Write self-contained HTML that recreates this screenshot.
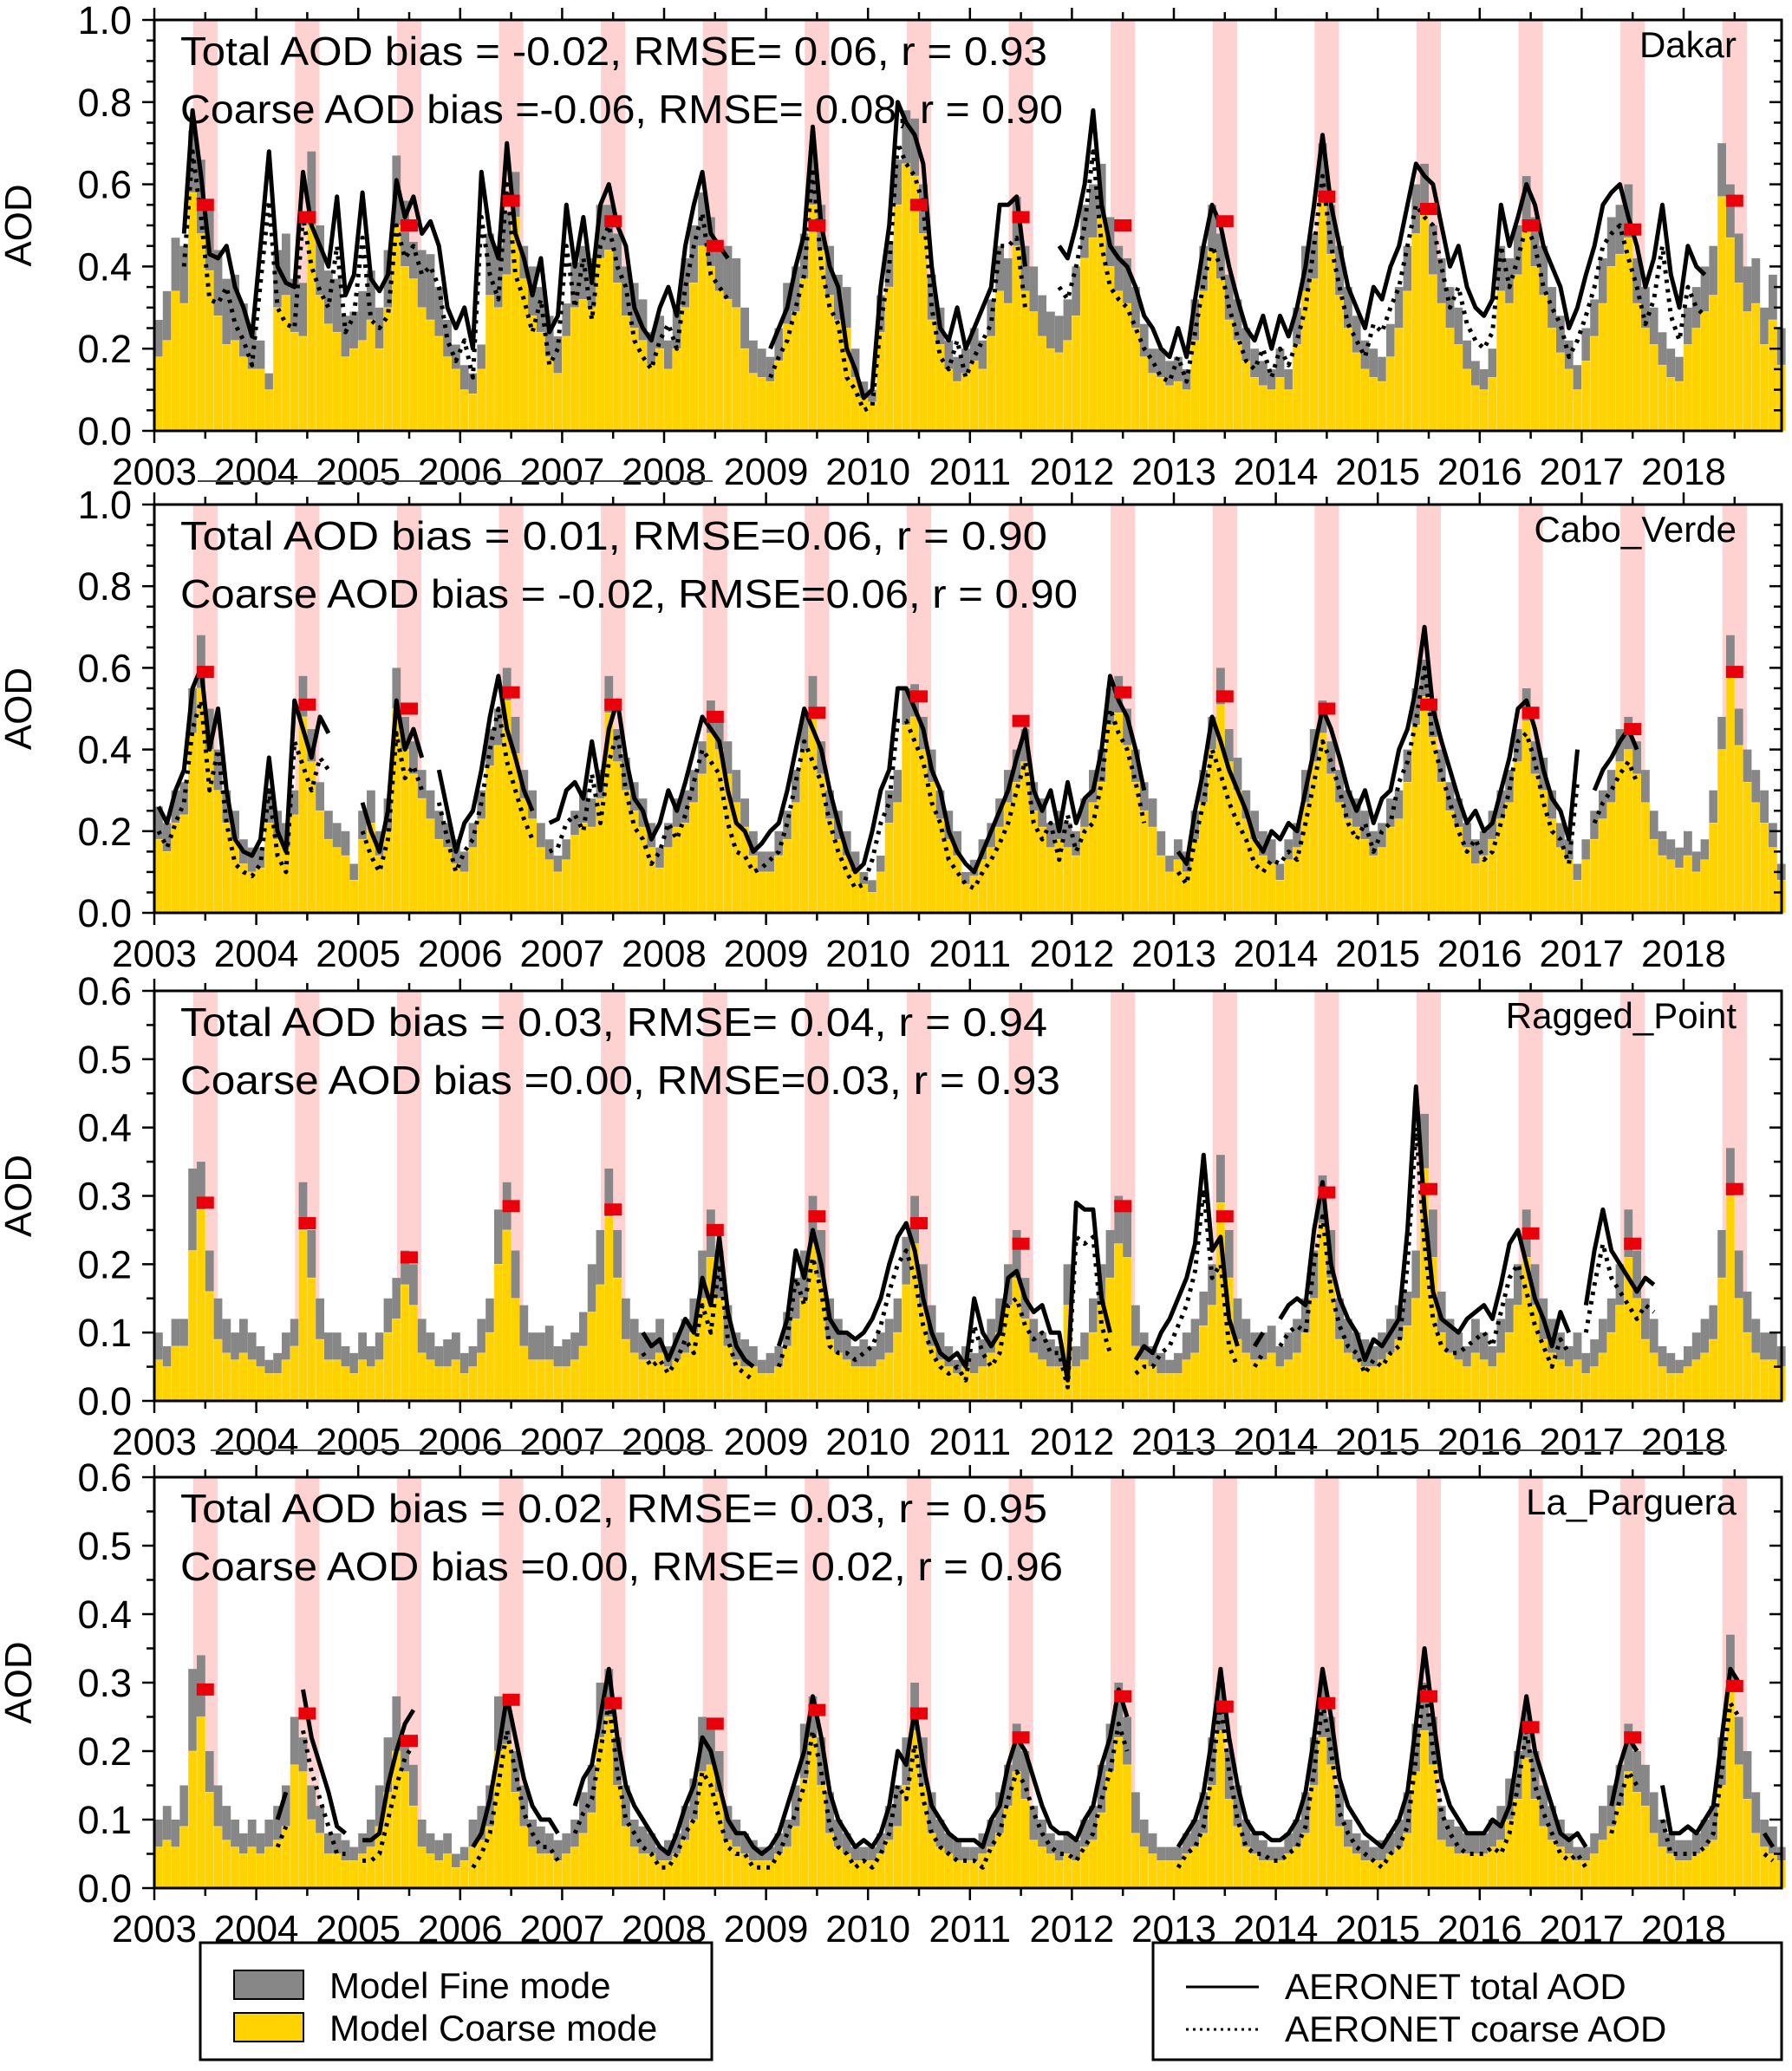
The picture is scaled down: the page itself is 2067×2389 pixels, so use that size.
<!DOCTYPE html>
<html><head><meta charset="utf-8"><style>
html,body{margin:0;padding:0;background:#fff}
svg{display:block}
text{font-family:"Liberation Sans",sans-serif;fill:#000}
</style></head><body>
<svg id="chart" width="2067" height="2389" viewBox="0 0 2067 2389" xmlns="http://www.w3.org/2000/svg"></svg>
<script>
const N=null;
const years=['2003','2004','2005','2006','2007','2008','2009','2010','2011','2012','2013','2014','2015','2016','2017','2018'];
const stations=['Dakar','Cabo_Verde','Ragged_Point','La_Parguera'];
const statsTotal=['Total AOD bias = -0.02, RMSE= 0.06, r = 0.93','Total AOD bias = 0.01, RMSE=0.06, r = 0.90','Total AOD bias  = 0.03, RMSE= 0.04, r = 0.94','Total AOD bias = 0.02, RMSE= 0.03, r = 0.95'];
const statsCoarse=['Coarse AOD bias =-0.06, RMSE= 0.08, r = 0.90','Coarse AOD bias = -0.02, RMSE=0.06, r = 0.90','Coarse AOD bias  =0.00, RMSE=0.03, r = 0.93','Coarse AOD bias =0.00, RMSE= 0.02, r = 0.96'];
const yMaxes=[1.0,1.0,0.6,0.6];
const yTickLabels=[['0.0','0.2','0.4','0.6','0.8','1.0'],['0.0','0.2','0.4','0.6','0.8','1.0'],['0.0','0.1','0.2','0.3','0.4','0.5','0.6'],['0.0','0.1','0.2','0.3','0.4','0.5','0.6']];
const redMarks=[
[.55,.52,.50,.56,.51,.45,.50,.55,.52,.50,.51,.57,.54,.50,.49,.56],
[.59,.51,.50,.54,.51,.48,.49,.53,.47,.54,.53,.50,.51,.49,.45,.59],
[.29,.26,.21,.285,.28,.25,.27,.26,.23,.285,.27,.305,.31,.245,.23,.31],
[.29,.255,.215,.275,.27,.24,.26,.255,.22,.28,.265,.27,.28,.235,.22,.295]];

const dakarTotal=[
.27,.34,.47,.45,.73,.66,.55,.44,.37,.38,.31,.25,
.22,.14,.44,.48,.37,.36,.68,.50,.39,.37,.28,.29,
.34,.39,.30,.44,.67,.56,.46,.44,.43,.35,.27,.21,
.16,.14,.21,.48,.45,.53,.63,.45,.40,.35,.28,.23,
.31,.41,.45,.42,.55,.55,.48,.40,.36,.32,.24,.28,
.22,.30,.42,.50,.58,.52,.46,.45,.42,.30,.22,.20,
.18,.25,.36,.40,.48,.68,.55,.45,.38,.35,.20,.12,
.10,.33,.46,.66,.78,.76,.60,.38,.30,.22,.18,.20,
.25,.22,.32,.45,.42,.57,.45,.40,.33,.29,.28,.32,
.40,.55,.60,.65,.52,.45,.42,.35,.26,.20,.20,.17,
.18,.15,.32,.45,.55,.48,.38,.32,.25,.20,.17,.15,
.20,.15,.30,.45,.48,.70,.55,.45,.35,.28,.22,.20,
.18,.26,.35,.45,.60,.65,.50,.42,.35,.30,.22,.17,
.15,.20,.45,.42,.50,.62,.52,.45,.35,.28,.22,.16,
.25,.32,.42,.52,.55,.60,.42,.35,.30,.24,.20,.18,
.30,.35,.40,.45,.70,.60,.48,.40,.42,.30,.38,.25];
const dakarCoarse=[
.18,.22,.34,.31,.58,.48,.39,.28,.21,.22,.18,.15,
.15,.10,.30,.33,.24,.23,.50,.33,.26,.24,.18,.20,
.22,.27,.20,.30,.50,.40,.37,.30,.27,.23,.18,.15,
.10,.09,.15,.33,.30,.38,.52,.37,.28,.24,.18,.14,
.23,.30,.32,.30,.42,.44,.36,.28,.25,.22,.16,.20,
.15,.20,.30,.36,.45,.40,.34,.32,.30,.20,.14,.13,
.12,.17,.26,.29,.37,.55,.44,.33,.27,.25,.13,.08,
.07,.24,.35,.55,.65,.62,.48,.27,.21,.15,.12,.14,
.17,.15,.23,.34,.31,.45,.34,.29,.23,.20,.19,.22,
.28,.42,.47,.52,.40,.34,.31,.25,.18,.14,.13,.11,
.12,.10,.22,.34,.44,.37,.27,.22,.17,.13,.11,.10,
.13,.10,.21,.34,.37,.57,.43,.33,.25,.19,.15,.13,
.12,.18,.25,.34,.48,.53,.38,.31,.25,.21,.15,.11,
.10,.13,.34,.31,.38,.50,.40,.33,.25,.19,.15,.10,
.17,.23,.31,.40,.43,.47,.31,.25,.21,.16,.13,.12,
.21,.25,.29,.33,.57,.47,.36,.29,.31,.21,.27,.16];
const dakarObsTotal=[
N,N,N,.48,.78,.62,.43,.42,.45,.35,.30,.23,
.45,.68,.40,.36,.35,.63,.50,.45,.40,.57,.33,.38,
.58,.37,.34,.38,.61,.52,.57,.48,.51,.45,.30,.25,
.30,.20,.63,.48,.42,.70,.48,.42,.33,.42,.24,.28,
.55,.40,.52,.36,.55,.60,.50,.45,.30,.25,.22,.30,
.35,.28,.45,.55,.63,.48,.45,.42,N,N,N,N,
.20,.25,.30,.40,.48,.74,.50,.40,.35,.20,.15,.08,
.10,.35,.50,.80,.75,.72,.65,.40,.25,.22,.30,.20,
.25,.30,.35,.55,.55,.57,.40,N,N,N,.45,.42,
.50,.60,.78,.55,.45,.42,.40,.35,.28,.25,.20,.18,
.25,.18,.32,.45,.55,.50,.40,.32,.25,.22,.28,.20,
.28,.23,.30,.40,.55,.72,.55,.45,.35,.30,.25,.35,
.32,.40,.45,.55,.65,.62,.60,.50,.40,.45,.35,.30,
.28,.32,.55,.45,.52,.60,.55,.45,.40,.35,.25,.30,
.38,.45,.55,.58,.60,.52,.45,.35,.42,.55,.38,.30,
.45,.40,.38,N,N,N,N,N,N,N,N,N];
const dakarObsCoarse=[
N,N,N,.40,.68,.52,.32,.31,.35,.26,.22,.16,
.36,.56,.30,.26,.25,.52,.40,.34,.30,.45,.24,.28,
.47,.27,.25,.28,.50,.42,.45,.38,.40,.35,.22,.17,
.22,.13,.52,.38,.32,.60,.38,.32,.24,.32,.16,.20,
.45,.30,.42,.27,.45,.50,.40,.35,.22,.18,.15,.22,
.26,.20,.35,.45,.53,.38,.35,.32,N,N,N,N,
.13,.18,.22,.30,.38,.64,.40,.30,.26,.13,.10,.05,
.06,.26,.40,.70,.65,.62,.55,.30,.18,.15,.22,.13,
.18,.22,.26,.45,.45,.47,.30,N,N,N,.35,.32,
.40,.50,.68,.45,.35,.32,.30,.25,.20,.17,.13,.12,
.18,.12,.24,.36,.45,.40,.30,.23,.17,.15,.20,.13,
.20,.16,.22,.30,.45,.62,.45,.35,.26,.22,.18,.26,
.24,.30,.35,.45,.55,.52,.50,.40,.30,.35,.26,.22,
.20,.24,.45,.35,.42,.50,.45,.35,.30,.26,.18,.22,
.28,.35,.45,.48,.50,.42,.35,.26,.32,.45,.28,.22,
.35,.30,.28,N,N,N,N,N,N,N,N,N];

const caboTotal=[
.26,.22,.30,.32,.55,.68,.50,.40,.30,.25,.18,.16,
.16,.30,.25,.22,.30,.58,.45,.32,.25,.22,.20,.12,
.25,.30,.20,.28,.60,.48,.42,.35,.30,.25,.22,.18,
.15,.22,.30,.45,.50,.60,.48,.35,.30,.22,.18,.14,
.18,.25,.30,.28,.35,.58,.45,.38,.32,.28,.22,.16,
.22,.28,.30,.35,.42,.52,.48,.42,.35,.28,.20,.15,
.15,.20,.25,.35,.48,.58,.42,.30,.25,.20,.15,.10,
.08,.14,.30,.35,.55,.56,.48,.40,.30,.25,.20,.10,
.13,.18,.22,.28,.35,.40,.45,.32,.28,.22,.25,.22,
.20,.28,.35,.40,.55,.58,.50,.40,.32,.28,.20,.14,
.18,.15,.25,.35,.48,.60,.45,.38,.30,.25,.20,.18,
.12,.18,.22,.35,.45,.52,.42,.35,.30,.28,.25,.20,
.22,.28,.30,.40,.55,.62,.52,.40,.32,.28,.22,.18,
.20,.25,.30,.35,.45,.55,.42,.38,.30,.22,.18,.12,
.18,.25,.30,.35,.45,.48,.42,.35,.25,.20,.18,.16,
.20,.15,.18,.30,.48,.68,.50,.40,.35,.30,.22,.12];
const caboCoarse=[
.18,.15,.22,.24,.44,.55,.40,.30,.22,.18,.12,.10,
.11,.22,.18,.16,.24,.48,.37,.25,.18,.16,.14,.08,
.18,.22,.14,.20,.50,.40,.34,.28,.23,.18,.16,.12,
.10,.16,.23,.36,.41,.52,.39,.28,.23,.16,.13,.10,
.13,.19,.22,.21,.28,.49,.37,.30,.25,.21,.16,.11,
.16,.21,.22,.27,.34,.44,.40,.34,.27,.21,.14,.10,
.10,.14,.18,.27,.40,.49,.34,.23,.18,.14,.10,.07,
.05,.10,.22,.27,.46,.48,.40,.32,.23,.18,.14,.07,
.09,.13,.16,.21,.27,.32,.37,.25,.21,.16,.18,.16,
.14,.21,.27,.32,.46,.49,.41,.32,.25,.21,.14,.10,
.13,.10,.18,.27,.40,.51,.37,.30,.23,.18,.14,.12,
.08,.13,.16,.27,.37,.44,.34,.27,.23,.21,.18,.14,
.16,.21,.23,.32,.46,.53,.43,.32,.25,.21,.16,.12,
.14,.18,.23,.27,.37,.47,.34,.30,.23,.16,.13,.08,
.13,.18,.23,.27,.37,.40,.34,.27,.18,.14,.13,.11,
.14,.10,.13,.22,.40,.58,.41,.32,.27,.22,.16,.08];
const caboObsTotal=[
.26,.22,.30,.35,.55,.60,.40,.50,.30,.18,.15,.14,
.18,.38,.20,.15,.52,.45,.38,.48,.44,N,N,N,
.27,.20,.15,.25,.52,.40,.45,.38,N,.35,.25,.15,
.22,.25,.35,.48,.58,.45,.38,.30,.25,N,.22,.23,
.30,.32,.28,.42,.30,.45,.52,.38,.28,.25,.18,.22,
.30,.25,.32,.40,.48,.45,.42,.30,.22,.20,.15,.17,
.20,.22,.30,.40,.50,.45,.40,.30,.22,.15,.10,.12,
.20,.30,.35,.55,.55,.50,.45,.35,.30,.20,.15,.12,
.10,.15,.20,.25,.30,.38,.45,.30,.25,.30,.20,.32,
.22,.28,.30,.40,.58,.52,.48,.40,.30,N,N,N,
.15,.12,.25,.35,.48,.42,.35,.30,.25,.18,.15,.20,
.18,.22,.20,.30,.40,.50,.45,.38,.30,.25,.30,.22,
.28,.30,.40,.45,.55,.70,.50,.42,.35,.28,.22,.25,
.20,.22,.30,.38,.50,.52,.45,.35,.28,.25,.18,.40,
N,.30,.35,.38,.42,.45,.40,N,N,N,N,N,
N,N,N,N,N,N,N,N,N,N,N,N];
const caboObsCoarse=[
.20,.16,.22,.27,.45,.52,.30,.40,.22,.12,.10,.09,
.12,.30,.14,.10,.42,.36,.30,.38,.35,N,N,N,
.20,.14,.10,.18,.44,.33,.36,.30,N,.27,.18,.10,
.15,.18,.27,.40,.50,.37,.30,.23,.18,N,.15,.16,
.22,.24,.20,.34,.22,.37,.44,.30,.21,.18,.12,.15,
.22,.18,.24,.32,.40,.37,.34,.22,.15,.14,.10,.11,
.13,.15,.22,.32,.42,.37,.32,.22,.15,.10,.06,.07,
.13,.22,.27,.47,.47,.42,.37,.27,.22,.13,.10,.07,
.06,.10,.13,.17,.22,.30,.37,.22,.18,.22,.13,.24,
.15,.20,.22,.32,.50,.44,.40,.32,.22,N,N,N,
.10,.07,.18,.27,.40,.34,.27,.22,.18,.12,.10,.13,
.12,.15,.13,.22,.32,.42,.37,.30,.22,.18,.22,.15,
.20,.22,.32,.37,.47,.60,.42,.34,.27,.20,.15,.18,
.13,.15,.22,.30,.42,.44,.37,.27,.20,.18,.12,.32,
N,.22,.27,.30,.34,.37,.32,N,N,N,N,N,
N,N,N,N,N,N,N,N,N,N,N,N];

const raggedTotal=[
.10,.08,.12,.12,.34,.35,.22,.15,.12,.10,.12,.10,
.08,.06,.07,.10,.12,.32,.25,.15,.10,.10,.08,.07,
.10,.08,.10,.15,.18,.22,.20,.12,.10,.08,.09,.10,
.07,.08,.12,.15,.28,.32,.22,.14,.10,.10,.11,.08,
.09,.10,.13,.20,.25,.34,.25,.15,.12,.10,.10,.12,
.08,.10,.12,.15,.22,.28,.22,.14,.10,.09,.08,.06,
.07,.08,.13,.18,.22,.30,.25,.15,.12,.10,.08,.09,
.08,.10,.12,.15,.24,.30,.20,.14,.10,.08,.06,.08,
.07,.09,.12,.15,.20,.25,.18,.12,.10,.09,.08,.20,
.08,.10,.15,.20,.25,.30,.28,.14,.10,.08,.07,.06,
.07,.10,.12,.16,.20,.36,.25,.15,.12,.10,.10,.11,
.08,.10,.12,.15,.22,.33,.25,.15,.12,.10,.09,.08,
.10,.12,.14,.16,.22,.42,.28,.16,.12,.10,.08,.12,
.10,.08,.12,.15,.20,.28,.20,.15,.12,.10,.08,.10,
.07,.09,.12,.15,.20,.28,.22,.15,.12,.08,.07,.06,
.08,.10,.12,.14,.25,.37,.22,.16,.12,.10,.10,.08];
const raggedCoarse=[
.06,.05,.08,.08,.22,.28,.16,.09,.07,.06,.07,.06,
.05,.04,.04,.06,.08,.25,.18,.09,.06,.06,.05,.04,
.06,.05,.06,.10,.12,.17,.14,.07,.06,.05,.05,.06,
.04,.05,.07,.10,.20,.25,.15,.08,.06,.06,.06,.05,
.05,.06,.08,.13,.17,.27,.18,.09,.07,.06,.06,.07,
.05,.06,.07,.10,.15,.21,.15,.08,.06,.05,.05,.04,
.04,.05,.08,.12,.15,.23,.18,.09,.07,.06,.05,.05,
.05,.06,.07,.10,.17,.23,.14,.08,.06,.05,.04,.05,
.04,.05,.07,.10,.14,.18,.12,.07,.06,.05,.05,.14,
.05,.06,.10,.14,.18,.23,.21,.08,.06,.05,.04,.04,
.04,.06,.07,.11,.14,.29,.18,.09,.07,.06,.06,.07,
.05,.06,.07,.10,.15,.26,.18,.09,.07,.06,.05,.05,
.06,.07,.09,.11,.15,.34,.21,.10,.07,.06,.05,.07,
.06,.05,.07,.10,.14,.21,.14,.09,.07,.06,.05,.06,
.04,.05,.07,.10,.14,.21,.15,.09,.07,.05,.04,.04,
.05,.06,.07,.09,.18,.30,.15,.10,.07,.06,.06,.05];
const raggedObsTotal=[
N,N,N,N,N,N,N,N,N,N,N,N,
N,N,N,N,N,N,N,N,N,N,N,N,
N,N,N,N,N,N,N,N,N,N,N,N,
N,N,N,N,N,N,N,N,N,N,N,N,
N,N,N,N,N,N,N,N,N,.10,.08,.09,
.06,.09,.12,.10,.18,.14,.24,.13,.08,.06,.05,N,
N,.08,.12,.22,.18,.25,.20,.12,.10,.10,.09,.10,
.12,.15,.20,.24,.26,.22,.15,.10,.07,.06,.07,.05,
.15,.10,.08,.10,.18,.19,.15,.13,.14,.10,.10,.03,
.29,.28,.28,.15,.10,N,N,.06,.08,.07,.10,.12,
.15,.18,.23,.36,.22,.24,.12,.08,N,.08,.10,N,
.12,.14,.15,.14,.25,.32,.20,.15,.12,.10,.06,.09,
.08,.10,.12,.25,.46,.28,.16,.12,.11,.10,.12,.13,
.14,.12,.17,.23,.25,.20,.15,.12,.08,.13,.10,N,
.14,.22,.28,.22,.20,.18,.16,.18,.17,N,N,N,
N,N,N,N,N,N,N,N,N,N,N,N];
const raggedObsCoarse=[
N,N,N,N,N,N,N,N,N,N,N,N,
N,N,N,N,N,N,N,N,N,N,N,N,
N,N,N,N,N,N,N,N,N,N,N,N,
N,N,N,N,N,N,N,N,N,N,N,N,
N,N,N,N,N,N,N,N,N,.07,.05,.06,
.04,.06,.09,.07,.14,.10,.20,.09,.05,.04,.03,N,
N,.05,.09,.18,.14,.21,.16,.08,.07,.07,.06,.07,
.08,.11,.16,.20,.22,.18,.11,.07,.05,.04,.05,.03,
.11,.07,.05,.07,.14,.15,.11,.09,.10,.07,.07,.02,
.24,.23,.24,.11,.07,N,N,.04,.05,.05,.07,.08,
.11,.14,.19,.31,.18,.20,.08,.05,N,.05,.07,N,
.08,.10,.11,.10,.20,.27,.16,.11,.08,.07,.04,.06,
.05,.07,.08,.20,.40,.23,.12,.08,.07,.07,.08,.09,
.10,.08,.13,.18,.20,.16,.11,.08,.05,.09,.07,N,
.10,.17,.23,.18,.16,.14,.12,.14,.13,N,N,N,
N,N,N,N,N,N,N,N,N,N,N,N];

const parguTotal=[
.10,.12,.10,.15,.32,.34,.20,.15,.12,.10,.08,.10,
.08,.10,.12,.15,.25,.22,.15,.12,.08,.08,.07,.06,
.08,.10,.15,.22,.28,.22,.18,.10,.08,.07,.08,.05,
.06,.10,.12,.15,.28,.28,.20,.15,.10,.09,.08,.07,
.08,.10,.14,.18,.30,.32,.22,.15,.10,.09,.08,.06,
.07,.08,.12,.16,.25,.24,.20,.12,.10,.08,.07,.06,
.06,.08,.10,.15,.24,.28,.22,.14,.10,.08,.06,.06,
.06,.08,.12,.15,.22,.30,.22,.14,.10,.08,.07,.06,
.06,.08,.10,.14,.18,.24,.20,.12,.10,.08,.07,.08,
.07,.10,.12,.18,.24,.30,.25,.14,.10,.08,.06,.06,
.06,.08,.10,.14,.22,.30,.20,.15,.10,.08,.07,.06,
.06,.08,.10,.14,.22,.30,.25,.15,.10,.08,.07,.06,
.07,.08,.10,.14,.24,.30,.25,.12,.10,.09,.08,.08,
.08,.10,.12,.16,.20,.26,.20,.15,.12,.10,.08,.06,
.06,.08,.12,.15,.18,.24,.20,.18,.14,.10,.08,.07,
.07,.08,.10,.12,.22,.37,.25,.20,.14,.10,.09,.06];
const parguCoarse=[
.06,.07,.06,.09,.20,.25,.14,.09,.07,.06,.05,.06,
.05,.06,.07,.09,.18,.17,.10,.08,.05,.05,.04,.04,
.05,.06,.09,.14,.20,.17,.12,.06,.05,.04,.05,.03,
.04,.06,.07,.09,.20,.21,.14,.09,.06,.05,.05,.04,
.05,.06,.08,.11,.22,.25,.15,.09,.06,.05,.05,.04,
.04,.05,.07,.10,.17,.18,.14,.07,.06,.05,.04,.04,
.04,.05,.06,.09,.16,.22,.15,.08,.06,.05,.04,.04,
.04,.05,.07,.09,.15,.23,.15,.08,.06,.05,.04,.04,
.04,.05,.06,.08,.12,.17,.13,.07,.06,.05,.04,.05,
.04,.06,.07,.11,.17,.22,.18,.08,.06,.05,.04,.04,
.04,.05,.06,.08,.15,.23,.13,.09,.06,.05,.04,.04,
.04,.05,.06,.08,.15,.22,.18,.09,.06,.05,.04,.04,
.04,.05,.06,.08,.17,.23,.18,.07,.06,.05,.05,.05,
.05,.06,.07,.10,.13,.19,.13,.09,.07,.06,.05,.04,
.04,.05,.07,.09,.12,.17,.14,.12,.08,.06,.05,.04,
.04,.05,.06,.07,.15,.30,.18,.13,.08,.06,.05,.04];
const parguObsTotal=[
N,N,N,N,N,N,N,N,N,N,N,N,
N,N,.10,.14,N,.29,.22,.18,.14,.09,.08,N,
.07,.07,.08,.15,.20,.24,.26,N,N,N,N,N,
N,.06,.08,.13,.20,.28,.22,.16,.12,.10,.10,.08,
N,.12,.16,.18,.25,.32,.22,.15,.12,.10,.08,.06,
.05,.08,.12,.15,.22,.20,.15,.10,.08,.08,.06,.05,
.06,.08,.12,.16,.20,.28,.22,.14,.10,.08,.06,.07,
.06,.08,.12,.20,.18,.26,.18,.12,.10,.08,.07,.07,
.07,.06,.10,.12,.18,.22,.20,.16,.12,.09,.08,.08,
.07,.10,.12,.18,.22,.29,.25,N,N,N,N,N,
.06,.08,.10,.14,.22,.32,.22,.15,.10,.08,.08,.07,
.07,.08,.10,.14,.22,.32,.25,.16,.12,.10,.08,.07,
.06,.08,.10,.14,.24,.35,.25,.16,.12,.10,.08,.08,
.08,.10,.09,.12,.20,.28,.20,.16,.12,.08,.07,.08,
.06,N,N,.12,.18,.22,.20,N,N,.15,.08,.08,
.09,.08,.10,.12,.22,.32,.30,N,N,.08,.06,N];
const parguObsCoarse=[
N,N,N,N,N,N,N,N,N,N,N,N,
N,N,.06,.09,N,.23,.17,.13,.09,.05,.05,N,
.04,.04,.05,.10,.15,.19,.21,N,N,N,N,N,
N,.03,.05,.08,.15,.23,.17,.11,.08,.06,.06,.04,
N,.08,.11,.13,.20,.27,.17,.10,.08,.06,.05,.03,
.03,.05,.08,.10,.17,.15,.10,.06,.05,.05,.03,.03,
.03,.05,.08,.11,.15,.23,.17,.09,.06,.05,.03,.04,
.03,.05,.08,.15,.13,.21,.13,.08,.06,.05,.04,.04,
.04,.03,.06,.08,.13,.17,.15,.11,.08,.06,.05,.05,
.04,.06,.08,.13,.17,.24,.20,N,N,N,N,N,
.03,.05,.06,.09,.17,.27,.17,.10,.06,.05,.05,.04,
.04,.05,.06,.09,.17,.27,.20,.11,.08,.06,.05,.04,
.03,.05,.06,.09,.19,.30,.20,.11,.08,.06,.05,.05,
.05,.06,.05,.08,.15,.23,.15,.11,.08,.05,.04,.05,
.03,N,N,.08,.13,.17,.15,N,N,.10,.05,.05,
.05,.05,.06,.08,.17,.27,.25,N,N,.05,.04,N];

const modelTotal=[dakarTotal,caboTotal,raggedTotal,parguTotal];
const modelCoarse=[dakarCoarse,caboCoarse,raggedCoarse,parguCoarse];
const obsTotal=[dakarObsTotal,caboObsTotal,raggedObsTotal,parguObsTotal];
const obsCoarse=[dakarObsCoarse,caboObsCoarse,raggedObsCoarse,parguObsCoarse];

const NS='http://www.w3.org/2000/svg';
const svg=document.getElementById('chart');
function mk(tag,attrs,parent){const e=document.createElementNS(NS,tag);for(const k in attrs)e.setAttribute(k,attrs[k]);(parent||svg).appendChild(e);return e;}
const L=178,R=2055,YW=117.6;
const tops=[23,582,1143,1704],bots=[497,1053,1616,2178];
function xAt(t){return L+t*YW;}
function mx(i){return xAt(i/12);}

for(let p=0;p<4;p++){
  const top=tops[p],bot=bots[p],ymax=yMaxes[p];
  const y=v=>bot-(v/ymax)*(bot-top);
  const g=mk('g',{});
  
  
  for(let k=0;k<years.length;k++){
    const b=mk('rect',{x:xAt(k+0.38),y:top,width:YW*0.24,height:bot-top,fill:'#ffd2d2'},g);
    
    
  }
  const bw=YW/12;
  for(let i=0;i<modelTotal[p].length;i++){
    const tv=Math.min(modelTotal[p][i],ymax),cv=Math.min(modelCoarse[p][i],ymax);
    const fb=mk('rect',{x:mx(i),y:y(tv),width:bw,height:y(cv)-y(tv),fill:'#878787'},g);
    
    
    const cb=mk('rect',{x:mx(i),y:y(cv),width:bw,height:bot-y(cv),fill:'#ffd200',stroke:'#ffe680','stroke-width':0.6},g);
    
    
  }
  function linePath(arr){let d='',pen=false;for(let i=0;i<arr.length;i++){const v=arr[i];if(v===null){pen=false;continue;}const X=(mx(i)+bw/2).toFixed(1),Y=y(Math.min(v,ymax)).toFixed(1);d+=(pen?'L':'M')+X+' '+Y+' ';pen=true;}return d;}
  const lc=mk('path',{d:linePath(obsCoarse[p]),fill:'none',stroke:'#000','stroke-width':5,'stroke-dasharray':'4 7','stroke-linejoin':'round'},g);
  
  
  const lt=mk('path',{d:linePath(obsTotal[p]),fill:'none',stroke:'#000','stroke-width':5,'stroke-linejoin':'round'},g);
  
  
  for(let k=0;k<redMarks[p].length;k++){
    const rm=mk('rect',{x:xAt(k+0.5)-10,y:y(redMarks[p][k])-7,width:20,height:14,fill:'#e8000b'},g);
    
    
  }
  const fr=mk('rect',{x:L,y:top,width:R-L,height:bot-top,fill:'none',stroke:'#000','stroke-width':3},g);
  
  
  const nMinor=Math.round(ymax/0.05);
  for(let j=0;j<=nMinor;j++){
    const v=j*0.05,yy=y(v),major=(ymax>0.7?(j%4===0):(j%2===0));
    const len=major?14:9;
    mk('line',{x1:L-len,x2:L,y1:yy,y2:yy,stroke:'#000','stroke-width':2.5},g);
    mk('line',{x1:R-len,x2:R,y1:yy,y2:yy,stroke:'#000','stroke-width':2.5},g);
  }
  yTickLabels[p].forEach((lab,j)=>{
    const v=parseFloat(lab);
    const t=mk('text',{x:152,y:y(v)+16,'text-anchor':'end','font-size':45},g);t.textContent=lab;
    
    
  });
  for(let k=0;k<=31;k++){
    const xx=xAt(k/2);if(xx>R)break;const major=k%2===0;
    mk('line',{x1:xx,x2:xx,y1:bot,y2:bot+(major?14:9),stroke:'#000','stroke-width':2.5},g);
    mk('line',{x1:xx,x2:xx,y1:top-(major?14:9),y2:top,stroke:'#000','stroke-width':2.5},g);
  }
  years.forEach((yr,k)=>{
    const t=mk('text',{x:xAt(k),y:bot+62,'text-anchor':'middle','font-size':44},g);t.textContent=yr;
    
    
  });
  const yt=mk('text',{x:0,y:0,'text-anchor':'middle','font-size':44,transform:'translate(36,'+((top+bot)/2)+') rotate(-90)'},g);
  yt.textContent='AOD';
  
  
  const s1=mk('text',{x:208,y:top+52,'font-size':46,'textLength':1000,'lengthAdjust':'spacingAndGlyphs'},g);s1.textContent=statsTotal[p];
  
  
  const s2=mk('text',{x:208,y:top+119,'font-size':46,'textLength':p===1?1035:(p===2?1015:1018),'lengthAdjust':'spacingAndGlyphs'},g);s2.textContent=statsCoarse[p];
  
  
  const st=mk('text',{x:2003,y:top+43,'text-anchor':'end','font-size':42},g);st.textContent=stations[p];
  
  
}
mk('line',{x1:228,x2:822,y1:555,y2:555,stroke:'#444','stroke-width':2});
mk('line',{x1:243,x2:822,y1:1673,y2:1673,stroke:'#444','stroke-width':2});
mk('line',{x1:1330,x2:1992,y1:1673,y2:1673,stroke:'#444','stroke-width':2});

const lg1=mk('g',{});


mk('rect',{x:231,y:2241,width:590,height:135,fill:'#fff',stroke:'#000','stroke-width':3},lg1);
const sw1=mk('rect',{x:270,y:2273,width:80,height:33,fill:'#878787',stroke:'#000','stroke-width':2},lg1);


const sw2=mk('rect',{x:270,y:2322,width:80,height:33,fill:'#ffd200',stroke:'#000','stroke-width':2},lg1);


let t1=mk('text',{x:380,y:2305,'font-size':42},lg1);t1.textContent='Model Fine mode';


let t2=mk('text',{x:380,y:2354,'font-size':42},lg1);t2.textContent='Model Coarse mode';



const lg2=mk('g',{});


mk('rect',{x:1330,y:2241,width:725,height:135,fill:'#fff',stroke:'#000','stroke-width':3},lg2);
mk('line',{x1:1368,x2:1452,y1:2292,y2:2292,stroke:'#000','stroke-width':3},lg2);
mk('line',{x1:1368,x2:1452,y1:2341,y2:2341,stroke:'#000','stroke-width':3,'stroke-dasharray':'3 5'},lg2);
let t3=mk('text',{x:1482,y:2306,'font-size':42},lg2);t3.textContent='AERONET total AOD';


let t4=mk('text',{x:1482,y:2355,'font-size':42},lg2);t4.textContent='AERONET coarse AOD';


</script>
</body></html>
